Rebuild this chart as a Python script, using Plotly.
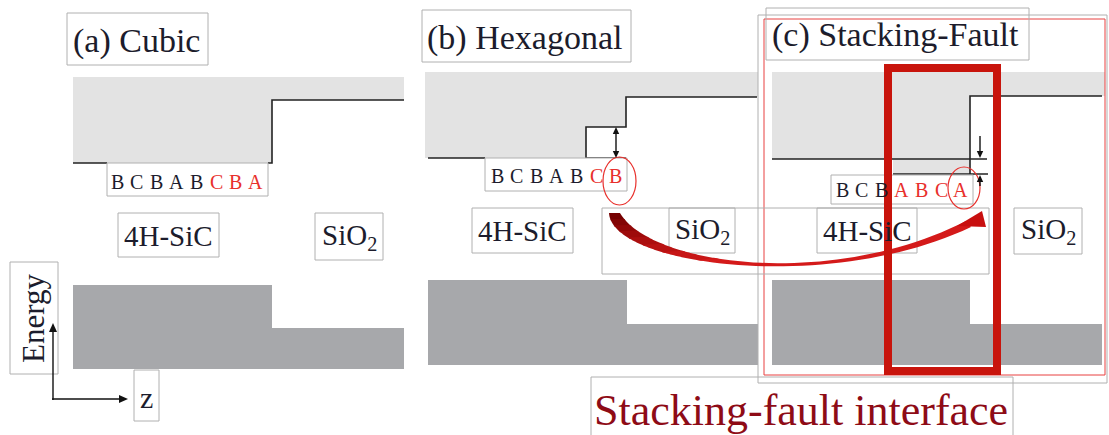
import plotly.graph_objects as go

# ---- diagram content -------------------------------------------------------
panel_titles = ["(a) Cubic", "(b) Hexagonal", "(c) Stacking-Fault"]
material_labels = ["4H-SiC", "SiO<sub>2</sub>"]
caption = "Stacking-fault interface"

# stacking sequences at the interface (1 = highlighted layer)
seq_cubic = ["B", "C", "B", "A", "B", "C", "B", "A"]
hl_cubic = [0, 0, 0, 0, 0, 1, 1, 1]
seq_hex = ["B", "C", "B", "A", "B", "C", "B"]
hl_hex = [0, 0, 0, 0, 0, 1, 1]
seq_fault = ["B", "C", "B", "A", "B", "C", "A"]
hl_fault = [0, 0, 0, 1, 1, 1, 1]

# band profiles (z, energy) in diagram units; energy grows upward (screen y down)
cb_fill_a = ([73, 404, 404, 272, 272, 73], [77, 77, 100, 100, 163, 163])
cb_fill_b = ([425, 758, 758, 626, 626, 586, 586, 425], [72, 72, 97, 97, 127, 127, 158, 158])
cb_fill_c = ([772, 1105, 1105, 970, 970, 893, 893, 772], [72, 72, 96, 96, 174, 174, 159, 159])

cb_edge_a = [([73, 107], [163, 163]), ([268, 272, 272, 404], [163, 163, 100, 100])]
cb_edge_b = [([428, 485], [158, 158]),
             ([626, 586, 586, 626, 626, 757], [158, 158, 127, 127, 97, 97])]
cb_edge_c = [([772, 987], [159, 159]), ([893, 988], [174, 174]),
             ([970, 970, 1102], [174, 96, 96])]

vb_fill_a = ([73, 272, 272, 404, 404, 73], [285, 285, 328, 328, 369, 369])
vb_fill_b = ([428, 627, 627, 758, 758, 428], [280, 280, 324, 324, 365, 365])
vb_fill_c = ([772, 970, 970, 1102, 1102, 772], [280, 280, 324, 324, 365, 365])

LIGHT = "#e3e3e3"
DARK = "#a7a8ab"
BOX = "#b0b0b0"
INK = "#1c1c2c"
RED = "#e8302c"
SERIF = "Liberation Serif"

fig = go.Figure()

for xs, ys in (cb_fill_a, cb_fill_b, cb_fill_c):
    fig.add_trace(go.Scatter(x=xs, y=ys, fill="toself", fillcolor=LIGHT,
                             mode="lines", line=dict(width=0), hoverinfo="skip"))
for xs, ys in (vb_fill_a, vb_fill_b, vb_fill_c):
    fig.add_trace(go.Scatter(x=xs, y=ys, fill="toself", fillcolor=DARK,
                             mode="lines", line=dict(width=0), hoverinfo="skip"))
for edges in (cb_edge_a, cb_edge_b, cb_edge_c):
    for xs, ys in edges:
        fig.add_trace(go.Scatter(x=xs, y=ys, mode="lines",
                                 line=dict(color="#222222", width=1.6), hoverinfo="skip"))

shapes = []


def box(x0, y0, x1, y1, color=BOX, width=1, fill=None):
    shapes.append(dict(type="rect", x0=x0, y0=y0, x1=x1, y1=y1,
                       line=dict(color=color, width=width),
                       fillcolor=fill if fill else "rgba(0,0,0,0)"))


# outlines framing panel (c)
box(758, 15, 1107, 383)
box(764, 19, 1105, 375, color="#e84040", width=1)

# title boxes
box(67, 13, 208, 65)
box(422, 10, 631, 62)
box(766, 8, 1029, 60)

# stacking-sequence boxes
box(107, 163, 268, 196, fill="white")
box(485, 158, 627, 191, fill="white")
box(831, 175, 973, 204)

# material label boxes
box(118, 213, 219, 257)
box(315, 213, 383, 260)
box(472, 208, 573, 253)
box(602, 208, 989, 274)
box(669, 208, 735, 253)
box(817, 208, 917, 253)
box(1014, 208, 1082, 254)

# axis label boxes and caption box
box(10, 262, 58, 374)
box(134, 370, 159, 421)
box(591, 377, 1013, 440)

# highlight ellipses around the interface layer
shapes.append(dict(type="circle", x0=603, y0=157, x1=636, y1=205,
                   line=dict(color=RED, width=1.2)))
shapes.append(dict(type="circle", x0=948, y0=167, x1=980, y1=209,
                   line=dict(color=RED, width=1.2)))


# ---- curved transfer arrow from (b) to (c): tapered body with a dark tail ----
def bezier(p, t):
    (x0, y0), (x1, y1), (x2, y2), (x3, y3) = p
    u = 1 - t
    return (u**3 * x0 + 3 * u * u * t * x1 + 3 * u * t * t * x2 + t**3 * x3,
            u**3 * y0 + 3 * u * u * t * y1 + 3 * u * t * t * y2 + t**3 * y3)


lower_edge = [(609, 213), (612, 266), (830, 294), (971, 227)]
upper_edge = [(620, 213), (650, 265), (830, 290), (966, 221)]


def band_path(t0, t1, n=30):
    pts = [bezier(lower_edge, t0 + (t1 - t0) * k / n) for k in range(n + 1)]
    pts += [bezier(upper_edge, t1 - (t1 - t0) * k / n) for k in range(n + 1)]
    return "M " + " L ".join(f"{x:.2f},{y:.2f}" for x, y in pts) + " Z"


def mix(c0, c1, f):
    a = [int(c0[i:i + 2], 16) for i in (1, 3, 5)]
    b = [int(c1[i:i + 2], 16) for i in (1, 3, 5)]
    return "#" + "".join(f"{round(x + (y - x) * f):02x}" for x, y in zip(a, b))


steps = [0.0, 0.04, 0.08, 0.12, 0.17, 0.23, 0.3, 0.4, 1.0]
for i in range(len(steps) - 1):
    f = i / (len(steps) - 2)
    shapes.append(dict(type="path", path=band_path(steps[i], min(steps[i + 1] + 0.01, 1.0)),
                       fillcolor=mix("#760000", "#d41a1a", f), line=dict(width=0)))
shapes.append(dict(type="path", path="M 982,211 L 957,226 L 986,227 Z",
                   fillcolor="#c80f0f", line=dict(width=0)))

# stacking-fault interface marker
shapes.append(dict(type="rect", x0=888, y0=68, x1=997, y1=371,
                   line=dict(color="#c8140c", width=8)))


def arrow(x_from, y_from, x_to, y_to, width=1.4, head=7, half=3.2):
    dx, dy = x_to - x_from, y_to - y_from
    length = (dx * dx + dy * dy) ** 0.5
    ux, uy = dx / length, dy / length
    bx, by = x_to - ux * head, y_to - uy * head
    shapes.append(dict(type="line", x0=x_from, y0=y_from, x1=bx + ux, y1=by + uy,
                       line=dict(color="#111111", width=width)))
    shapes.append(dict(type="path",
                       path=f"M {x_to},{y_to} L {bx - uy * half:.2f},{by + ux * half:.2f} "
                            f"L {bx + uy * half:.2f},{by - ux * half:.2f} Z",
                       fillcolor="#111111", line=dict(width=0)))


# band offset markers
arrow(616, 142, 616, 127)
arrow(616, 142, 616, 158)
arrow(980, 136, 980, 158)
arrow(980, 186, 980, 175)
# energy / position axes
arrow(53, 400, 53, 323, head=9, half=4)
arrow(52, 399, 128, 399, head=9, half=4)

annotations = []


def text(x, y, s, size, color=INK, anchor="center", angle=0):
    annotations.append(dict(x=x, y=y, text=s, showarrow=False, xanchor=anchor,
                            yanchor="middle", textangle=angle,
                            font=dict(family=SERIF, size=size, color=color)))


text(71, 41, panel_titles[0], 34, anchor="left")
text(425, 38, panel_titles[1], 34, anchor="left")
text(770, 35, panel_titles[2], 34, anchor="left")

for seq, hl, x0, y in ((seq_cubic, hl_cubic, 117, 182),
                       (seq_hex, hl_hex, 497, 176),
                       (seq_fault, hl_fault, 842, 190)):
    for i, (ch, h) in enumerate(zip(seq, hl)):
        text(x0 + i * 19.8, y, ch, 20, color=RED if h else INK)

text(168, 236, material_labels[0], 29)
text(349, 237, material_labels[1], 29)
text(522, 231, material_labels[0], 29)
text(702, 231, material_labels[1], 29)
text(867, 231, material_labels[0], 29)
text(1048, 231, material_labels[1], 29)

text(33, 319, "Energy", 31, angle=-90)
text(146, 397, "z", 30)
text(801, 410, caption, 44, color="#8e0b16")

fig.update_layout(
    width=1109, height=435, margin=dict(l=0, r=0, t=0, b=0),
    paper_bgcolor="white", plot_bgcolor="white", showlegend=False,
    xaxis=dict(range=[0, 1109], visible=False, fixedrange=True),
    yaxis=dict(range=[435, 0], visible=False, fixedrange=True),
    shapes=shapes, annotations=annotations,
)

fig.write_html("out.html")
